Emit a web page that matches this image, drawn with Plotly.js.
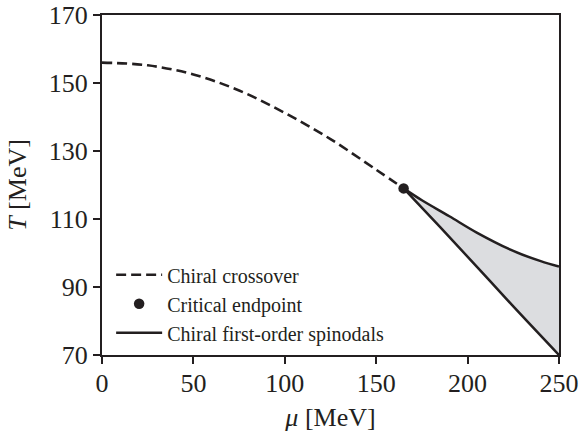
<!DOCTYPE html>
<html>
<head>
<meta charset="utf-8">
<script src="https://cdn.plot.ly/plotly-3.0.1.min.js"></script>
<style>html,body{margin:0;padding:0;background:#fff;}</style>
</head>
<body>
<div id="chart" style="width:581px;height:432px;"></div>
<script>
// Chiral crossover line
var muCross = [0, 25, 50, 75, 100, 125, 150, 165];
var TCross  = [156, 155.2, 152.5, 147.8, 141.2, 133.5, 124.5, 119];
// Critical endpoint
var muCEP = [165];
var TCEP  = [119];
// Upper spinodal
var muUpper = [165, 175, 190, 205, 225, 240, 250];
var TUpper  = [119, 115.5, 110.8, 106.0, 100.6, 97.6, 96];
// Lower spinodal
var muLower = [165, 185, 205, 225, 250];
var TLower  = [119, 107.6, 96, 84.3, 70];

var ink = '#231f20';
var fontFam = '"Liberation Serif", "Times New Roman", serif';

var fillX = muLower.concat(muUpper.slice().reverse());
var fillY = TLower.concat(TUpper.slice().reverse());

var traces = [
  {x: fillX, y: fillY, mode: 'lines', fill: 'toself', fillcolor: '#dcdde0',
   line: {width: 0, color: 'rgba(0,0,0,0)'}, showlegend: false, hoverinfo: 'skip'},
  {x: muCross, y: TCross, mode: 'lines', name: 'Chiral crossover',
   line: {color: ink, width: 2.6, dash: '10px,5px', shape: 'spline'}},
  {x: muCEP, y: TCEP, mode: 'markers', name: 'Critical endpoint',
   marker: {color: ink, size: 10.5}},
  {x: muUpper, y: TUpper, mode: 'lines', name: 'Chiral first-order spinodals',
   line: {color: ink, width: 2.5, shape: 'spline'}},
  {x: muLower, y: TLower, mode: 'lines', showlegend: false,
   line: {color: ink, width: 2.5, shape: 'spline'}}
];

var axisCommon = {
  showgrid: false, zeroline: false, showline: true, linecolor: ink, linewidth: 2,
  mirror: true, ticks: 'outside', ticklen: 7, tickwidth: 2, tickcolor: ink,
  tickfont: {family: fontFam, size: 26, color: ink}
};

var layout = {
  width: 581, height: 432,
  margin: {l: 102, r: 22, t: 15, b: 77, pad: 0},
  paper_bgcolor: '#fff', plot_bgcolor: '#fff',
  font: {family: fontFam, color: ink},
  xaxis: Object.assign({}, axisCommon, {
    range: [0, 250], tickvals: [0, 50, 100, 150, 200, 250],
    ticklabelstandoff: -3,
    title: {text: '<i>μ</i> [MeV]', font: {family: fontFam, size: 26, color: ink}, standoff: 12}
  }),
  yaxis: Object.assign({}, axisCommon, {
    range: [70, 170], tickvals: [70, 90, 110, 130, 150, 170],
    title: {text: '<i>T</i> [MeV]', font: {family: fontFam, size: 26, color: ink}, standoff: 15}
  }),
  legend: {
    x: 0.02, y: 0.008, xanchor: 'left', yanchor: 'bottom',
    bgcolor: 'rgba(0,0,0,0)', borderwidth: 0,
    font: {family: fontFam, size: 20, color: ink},
    itemwidth: 46, tracegroupgap: 0
  },
  showlegend: true
};

Plotly.newPlot('chart', traces, layout, {displayModeBar: false, staticPlot: true});
</script>
</body>
</html>
